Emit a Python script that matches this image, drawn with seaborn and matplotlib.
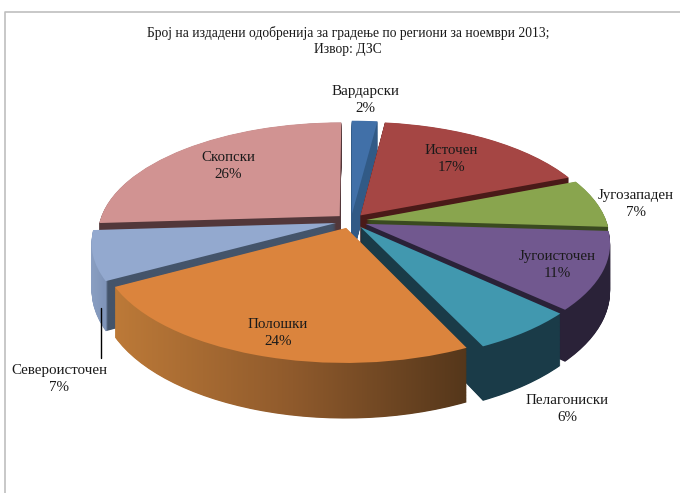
import numpy as np
import matplotlib
matplotlib.use('Agg')
import matplotlib.pyplot as plt
import seaborn as sns
from matplotlib.colors import LinearSegmentedColormap
from matplotlib.transforms import Transform

regions = ['Вардарски', 'Источен', 'Југозападен', 'Југоисточен',
           'Пелагониски', 'Полошки', 'Североисточен', 'Скопски']
shares = [2, 17, 7, 11, 6, 24, 7, 26]
title = 'Број на издадени одобренија за градење по региони за ноември 2013;\nИзвор: ДЗС'

top_colors = ['#4170a8', '#a54644', '#89a54e', '#71588f',
              '#4198af', '#db843d', '#93a9cf', '#d19392']
side_colors = ['#315a86', '#4a1a18', '#3a4a20', '#2a2238',
               '#1a3b48', '#8f5a2c', '#44546a', '#52373a']

# label centres in pixels
label_xy = [(365, 100), (451, 159), (636, 204), (557, 265),
            (567, 409), (278, 333), (59, 379), (228, 166)]

# the order the side walls are painted in, back to front
side_order = [0, 1, 2, 3, 4, 7, 6, 5]

CX, CY = 351, 221
RX, RY = 240, 110.5
PERSP = 0.163
DEPTH = 46
EXPLODE = 0.065


class TiltedPlane(Transform):
    """Lays the unit pie on a tilted plane, in pixels, with a bit of perspective."""
    input_dims = 2
    output_dims = 2

    def __init__(self, drop=0):
        super().__init__()
        self.drop = drop

    def transform_non_affine(self, values):
        x, y = np.asarray(values).T
        s = 1 / (1 + PERSP * y)
        return np.column_stack([CX + RX * x * s, CY + (self.drop - RY * y) * s])


sns.set_style('white')
plt.rcParams['font.family'] = ['Liberation Serif', 'DejaVu Serif']

fig = plt.figure(figsize=(6.8, 4.93), dpi=100)
ax = fig.add_axes([0, 0, 1, 1])

ramps = {
    5: (112, 475, LinearSegmentedColormap.from_list('pol', ['#bd7a38', '#8f5a2c', '#52351a'])),
    6: (85, 345, LinearSegmentedColormap.from_list(
        'sev', [(0, '#8ea3c6'), (0.08, '#7f94b8'), (0.085, '#44546a'), (1, '#44546a')])),
}

explode = [EXPLODE] * len(shares)
flat = {'linewidth': 0, 'edgecolor': 'none'}

for drop in np.arange(DEPTH, 0, -0.5):
    wedges, _ = ax.pie(shares, colors=sns.color_palette(side_colors), explode=explode,
                       startangle=90, counterclock=False, radius=1, wedgeprops=flat)
    for k, wedge in enumerate(wedges):
        wedge.set_transform(TiltedPlane(drop) + ax.transData)
        z = 1 + side_order.index(k) + (DEPTH - drop) / 1000
        wedge.set_zorder(z)
        if k in ramps:
            # gradient wall: the wedge only serves as the clip outline
            x0, x1, cmap = ramps[k]
            im = ax.imshow(np.linspace(0, 1, 512)[None, :], cmap=cmap, aspect='auto',
                           extent=(x0, x1, 430, 200), zorder=z)
            im.set_clip_path(wedge)
            wedge.set_visible(False)

wedges, _ = ax.pie(shares, colors=sns.color_palette(top_colors), explode=explode,
                   startangle=90, counterclock=False, radius=1, wedgeprops=flat)
for wedge in wedges:
    wedge.set_transform(TiltedPlane() + ax.transData)
    wedge.set_zorder(20)

# outline of the chart area and the one leader line
ax.plot([5, 5, 680], [493, 12, 12], color='#bfbfbf', lw=1.2, zorder=30, clip_on=False)
ax.plot([101, 101], [308, 358], color='black', lw=1, zorder=21)

for name, share, (x, y) in zip(regions, shares, label_xy):
    ax.text(x, y, f'{name}\n{share}%', ha='center', va='center', fontsize=10.8,
            color='#1a1a1a', linespacing=1.32, zorder=25)

ax.text(348, 41, title, ha='center', va='center', fontsize=9.8, color='#1a1a1a',
        linespacing=1.35, zorder=25)

ax.set_aspect('auto')
ax.set_xlim(0, 680)
ax.set_ylim(493, 0)
ax.axis('off')

fig.savefig('out.png', dpi=100, facecolor='white')
